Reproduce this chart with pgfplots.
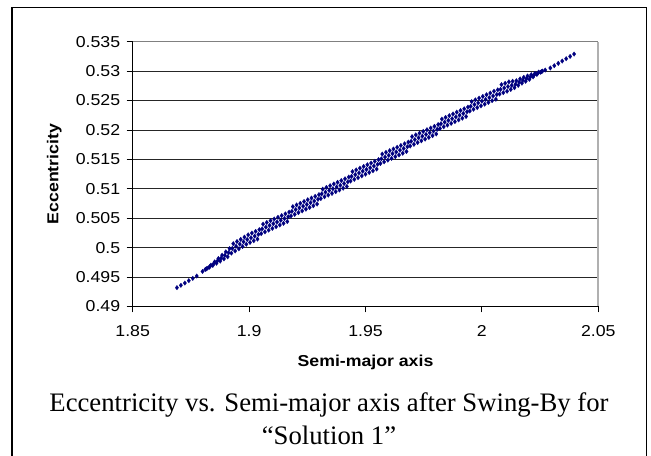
\documentclass[border=0pt]{standalone}
\usepackage{fontspec}
\setmainfont{Liberation Sans}[FakeStretch=1.12]
\newfontfamily\capfont{Liberation Serif}
\usepackage{pgfplots}
\pgfplotsset{compat=1.18}
\usepackage{pgfplotstable}
\definecolor{navy}{HTML}{000080}
\definecolor{bordergray}{HTML}{808080}
\definecolor{rightgray}{HTML}{B0B0B0}

\pgfplotstableread{
x y
1.8690 0.49320
1.8707 0.49360
1.8724 0.49399
1.8741 0.49439
1.8758 0.49478
1.8775 0.49518
1.8800 0.49596
1.8812 0.49630
1.8816 0.49640
1.8820 0.49650
1.8828 0.49663
1.8832 0.49683
1.8836 0.49703
1.8844 0.49698
1.8848 0.49728
1.8852 0.49758
1.8860 0.49735
1.8864 0.49775
1.8868 0.49815
1.8876 0.49772
1.8880 0.49822
1.8884 0.49872
1.8892 0.49809
1.8896 0.49869
1.8900 0.49929
1.8908 0.49844
1.8912 0.49914
1.8916 0.49984
1.8924 0.49907
1.8928 0.49987
1.8932 0.50067
1.8940 0.49944
1.8944 0.50024
1.8948 0.50104
1.8956 0.49980
1.8960 0.50060
1.8964 0.50140
1.8972 0.50019
1.8976 0.50099
1.8980 0.50179
1.8988 0.50058
1.8992 0.50138
1.8996 0.50218
1.9004 0.50088
1.9008 0.50168
1.9012 0.50248
1.9020 0.50117
1.9024 0.50197
1.9028 0.50277
1.9036 0.50146
1.9040 0.50226
1.9044 0.50306
1.9052 0.50239
1.9056 0.50319
1.9060 0.50399
1.9068 0.50268
1.9072 0.50348
1.9076 0.50428
1.9084 0.50298
1.9088 0.50378
1.9092 0.50458
1.9100 0.50327
1.9104 0.50407
1.9108 0.50487
1.9116 0.50356
1.9120 0.50436
1.9124 0.50516
1.9132 0.50385
1.9136 0.50465
1.9140 0.50545
1.9148 0.50414
1.9152 0.50494
1.9156 0.50574
1.9164 0.50444
1.9168 0.50524
1.9172 0.50604
1.9180 0.50537
1.9184 0.50617
1.9188 0.50697
1.9196 0.50566
1.9200 0.50646
1.9204 0.50726
1.9212 0.50595
1.9216 0.50675
1.9220 0.50755
1.9228 0.50624
1.9232 0.50704
1.9236 0.50784
1.9244 0.50654
1.9248 0.50734
1.9252 0.50814
1.9260 0.50683
1.9264 0.50763
1.9268 0.50843
1.9276 0.50712
1.9280 0.50792
1.9284 0.50872
1.9292 0.50741
1.9296 0.50821
1.9300 0.50901
1.9308 0.50834
1.9312 0.50914
1.9316 0.50994
1.9324 0.50864
1.9328 0.50944
1.9332 0.51024
1.9340 0.50893
1.9344 0.50973
1.9348 0.51053
1.9356 0.50922
1.9360 0.51002
1.9364 0.51082
1.9372 0.50951
1.9376 0.51031
1.9380 0.51111
1.9388 0.50980
1.9392 0.51060
1.9396 0.51140
1.9404 0.51010
1.9408 0.51090
1.9412 0.51170
1.9420 0.51039
1.9424 0.51119
1.9428 0.51199
1.9436 0.51132
1.9440 0.51212
1.9444 0.51292
1.9452 0.51161
1.9456 0.51241
1.9460 0.51321
1.9468 0.51190
1.9472 0.51270
1.9476 0.51350
1.9484 0.51220
1.9488 0.51300
1.9492 0.51380
1.9500 0.51249
1.9504 0.51329
1.9508 0.51409
1.9516 0.51278
1.9520 0.51358
1.9524 0.51438
1.9532 0.51307
1.9536 0.51387
1.9540 0.51467
1.9548 0.51336
1.9552 0.51416
1.9556 0.51496
1.9564 0.51430
1.9568 0.51510
1.9572 0.51590
1.9580 0.51459
1.9584 0.51539
1.9588 0.51619
1.9596 0.51488
1.9600 0.51568
1.9604 0.51648
1.9612 0.51517
1.9616 0.51597
1.9620 0.51677
1.9628 0.51546
1.9632 0.51626
1.9636 0.51706
1.9644 0.51576
1.9648 0.51656
1.9652 0.51736
1.9660 0.51605
1.9664 0.51685
1.9668 0.51765
1.9676 0.51634
1.9680 0.51714
1.9684 0.51794
1.9692 0.51727
1.9696 0.51807
1.9700 0.51887
1.9708 0.51756
1.9712 0.51836
1.9716 0.51916
1.9724 0.51786
1.9728 0.51866
1.9732 0.51946
1.9740 0.51815
1.9744 0.51895
1.9748 0.51975
1.9756 0.51844
1.9760 0.51924
1.9764 0.52004
1.9772 0.51873
1.9776 0.51953
1.9780 0.52033
1.9788 0.51902
1.9792 0.51982
1.9796 0.52062
1.9804 0.51932
1.9808 0.52012
1.9812 0.52092
1.9820 0.52025
1.9824 0.52105
1.9828 0.52185
1.9836 0.52054
1.9840 0.52134
1.9844 0.52214
1.9852 0.52083
1.9856 0.52163
1.9860 0.52243
1.9868 0.52112
1.9872 0.52192
1.9876 0.52272
1.9884 0.52142
1.9888 0.52222
1.9892 0.52302
1.9900 0.52171
1.9904 0.52251
1.9908 0.52331
1.9916 0.52200
1.9920 0.52280
1.9924 0.52360
1.9932 0.52229
1.9936 0.52309
1.9940 0.52389
1.9948 0.52322
1.9952 0.52402
1.9956 0.52482
1.9964 0.52352
1.9968 0.52432
1.9972 0.52512
1.9980 0.52381
1.9984 0.52461
1.9988 0.52541
1.9996 0.52410
2.0000 0.52490
2.0004 0.52570
2.0012 0.52439
2.0016 0.52519
2.0020 0.52599
2.0028 0.52468
2.0032 0.52548
2.0036 0.52628
2.0044 0.52498
2.0048 0.52578
2.0052 0.52658
2.0060 0.52522
2.0064 0.52602
2.0068 0.52682
2.0076 0.52610
2.0080 0.52690
2.0084 0.52770
2.0092 0.52634
2.0096 0.52714
2.0100 0.52794
2.0108 0.52658
2.0112 0.52738
2.0116 0.52818
2.0124 0.52688
2.0128 0.52758
2.0132 0.52828
2.0140 0.52717
2.0144 0.52777
2.0148 0.52837
2.0156 0.52758
2.0160 0.52813
2.0164 0.52868
2.0172 0.52795
2.0176 0.52845
2.0180 0.52895
2.0188 0.52827
2.0192 0.52872
2.0196 0.52917
2.0204 0.52860
2.0208 0.52900
2.0212 0.52940
2.0220 0.52902
2.0224 0.52932
2.0228 0.52962
2.0236 0.52944
2.0240 0.52964
2.0244 0.52984
2.0252 0.52981
2.0256 0.52991
2.0260 0.53001
2.0272 0.53018
2.0294 0.53053
2.0311 0.53092
2.0328 0.53132
2.0345 0.53171
2.0362 0.53211
2.0379 0.53250
2.0396 0.53290
}\datatable

\begin{document}
\begin{tikzpicture}
\useasboundingbox (0bp,0bp) rectangle (651bp,456bp);
\fill[white] (0bp,0bp) rectangle (651bp,456bp);
\draw[line width=1.8bp] (12bp,-10bp) -- (12bp,448.5bp) -- (646.5bp,448.5bp) -- (646.5bp,-10bp);
\begin{axis}[
  at={(132.7bp,149.5bp)}, anchor=south west,
  scale only axis, width=465.6bp, height=264.8bp,
  xmin=1.85, xmax=2.05, ymin=0.49, ymax=0.535,
  axis x line*=bottom, axis y line*=left,
  axis line style={black, line width=0.9bp, -},
  xtick={1.85,1.9,1.95,2,2.05},
  ytick={0.49,0.495,0.5,0.505,0.51,0.515,0.52,0.525,0.53,0.535},
  tick align=outside, major tick length=6bp,
  tick style={black, line width=0.9bp},
  ymajorgrids, major grid style={black!85, line width=0.8bp},
  /pgf/number format/assume math mode=true,
  xticklabel style={/pgf/number format/fixed, /pgf/number format/precision=2, yshift=-9bp},
  yticklabel style={/pgf/number format/fixed, /pgf/number format/precision=3, xshift=-3bp},
  tick label style={font=\fontsize{15.8bp}{18bp}\selectfont},
  label style={font=\bfseries\fontsize{15.8bp}{18bp}\selectfont},
  xlabel={Semi-major axis},
  ylabel={Eccentricity},
  xlabel style={at={(axis description cs:0.5,0)}, anchor=base, yshift=-60.5bp},
  ylabel style={at={(axis description cs:-0.1594,0.5)}, anchor=base, rotate=0},
  clip=false,
]
\addplot[only marks, mark=diamond*, mark size=2.3bp, color=navy, mark options={fill=navy, draw=navy, line width=0.2bp}] table[x=x, y=y] {\datatable};
\draw[bordergray, line width=0.9bp] (rel axis cs:0,1) -- (rel axis cs:1,1);
\draw[rightgray, line width=1.8bp] (rel axis cs:1,0) -- (rel axis cs:1,1);
\end{axis}
\node[anchor=base, font=\capfont\fontsize{26.7bp}{30bp}\selectfont] at (329bp,44.3bp) {Eccentricity vs. Semi-major axis after Swing-By for};
\node[anchor=base, font=\capfont\fontsize{26.7bp}{30bp}\selectfont] at (329bp,12bp) {“Solution 1”};
\end{tikzpicture}
\end{document}
